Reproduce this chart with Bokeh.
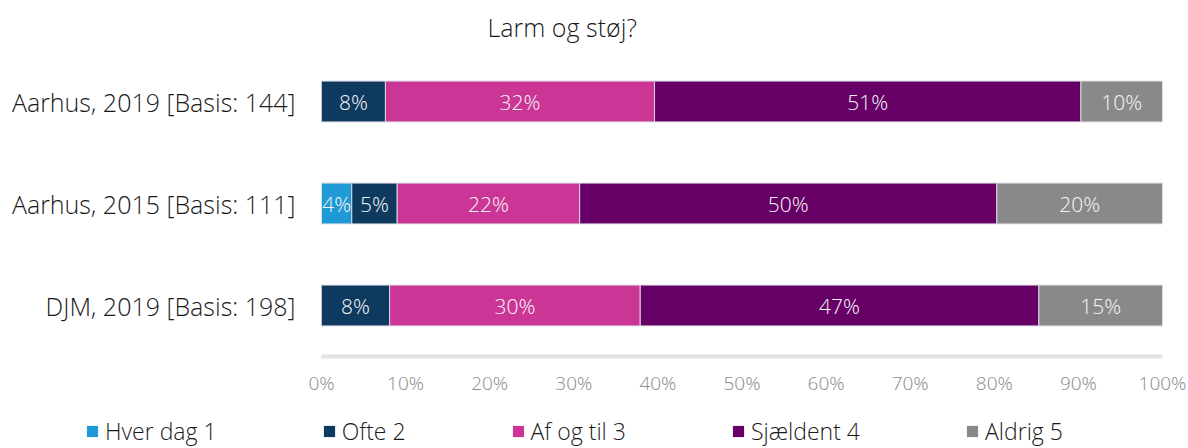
from bokeh.plotting import figure
from bokeh.layouts import column
from bokeh.models import FactorRange, FixedTicker, PrintfTickFormatter, Legend, LegendItem, ColumnDataSource, Range1d
from bokeh.core.properties import value
from bokeh.embed import file_html
from bokeh.resources import INLINE

categories = ["Aarhus, 2019 [Basis: 144]", "Aarhus, 2015 [Basis: 111]", "DJM, 2019 [Basis: 198]"]
series_names = ["Hver dag 1", "Ofte 2", "Af og til 3", "Sjældent 4", "Aldrig 5"]
hver_dag = [0.0, 3.6, 0.0]
ofte = [7.6, 5.4, 8.1]
af_og_til = [32.0, 21.7, 29.8]
sjaeldent = [50.7, 49.6, 47.4]
aldrig = [9.7, 19.7, 14.7]
x_ticks = [0, 10, 20, 30, 40, 50, 60, 70, 80, 90, 100]

colors = ["#1f9ad6", "#0e3a60", "#cb3596", "#660066", "#898989"]
FONT_NAME = "'Open Sans Light', 'Open Sans'"
FONT = value(FONT_NAME)

series = [hver_dag, ofte, af_og_til, sjaeldent, aldrig]
keys = ["s%d" % i for i in range(len(series))]
data = {"cat": categories}
for k, s in zip(keys, series):
    data[k] = s
src = ColumnDataSource(data)

p = figure(width=1188, height=404, y_range=FactorRange(factors=list(reversed(categories))),
           x_range=(0, 100), output_backend="svg", toolbar_location=None,
           min_border_left=321, min_border_right=26, min_border_top=50, min_border_bottom=48)
p.frame_align = False
p.outline_line_color = None
p.grid.visible = False
p.background_fill_color = "white"

renderers = p.hbar_stack(keys, y="cat", height=0.4, source=src, fill_color=colors,
                         line_color="#d8d8e0", line_width=1)

# segment labels
lx, ly, lt = [], [], []
for j, cat in enumerate(categories):
    left = 0.0
    for s in series:
        v = s[j]
        if v > 0:
            lx.append(left + v / 2.0)
            ly.append(cat)
            lt.append("%.0f%%" % v)
        left += v
p.text(x=lx, y=ly, text=lt, text_align="center", text_baseline="middle",
       text_color="#f4f4f4", text_font=FONT, text_font_size="21px")

# axes
p.xaxis.ticker = FixedTicker(ticks=x_ticks)
p.xaxis.formatter = PrintfTickFormatter(format="%d%%")
p.xaxis.major_tick_line_color = None
p.xaxis.minor_tick_line_color = None
p.xaxis.axis_line_color = "#e3e3e3"
p.xaxis.axis_line_width = 4
p.xaxis.major_label_text_font = FONT_NAME
p.xaxis.major_label_text_font_size = "19px"
p.xaxis.major_label_text_color = "#8c8c8c"
p.xaxis.major_label_standoff = 7

p.yaxis.axis_line_color = None
p.yaxis.major_tick_line_color = None
p.yaxis.minor_tick_line_color = None
p.yaxis.major_label_text_font = FONT_NAME
p.yaxis.major_label_text_font_size = "25px"
p.yaxis.major_label_text_color = "#1a1a1a"
p.yaxis.major_label_standoff = 20

# title
p.title.text = "Larm og støj?"
p.title.align = "left"
p.title.offset = 166
p.title.standoff = 14
p.title.text_font = FONT_NAME
p.title.text_font_size = "25px"
p.title.text_font_style = "normal"
p.title.text_color = "#1a1a1a"

# legend strip (own figure, frame not aligned with the chart's)
p2 = figure(width=1188, height=44, x_range=Range1d(0, 1), y_range=Range1d(0, 1),
            output_backend="svg", toolbar_location=None,
            min_border_left=0, min_border_right=0, min_border_top=0, min_border_bottom=0)
p2.frame_align = False
p2.axis.visible = False
p2.grid.visible = False
p2.outline_line_color = None
dummy = ColumnDataSource(dict(y=[5], left=[5], right=[5]))  # off-range swatch carriers
leg_renderers = []
for c in colors:
    leg_renderers.append(p2.hbar(y="y", left="left", right="right", height=0.1, source=dummy,
                                 fill_color=c, line_color=None))

legend = Legend(items=[LegendItem(label=n, renderers=[r]) for n, r in zip(series_names, leg_renderers)],
                orientation="horizontal", location=(85, 1), spacing=105,
                glyph_width=14, glyph_height=14, label_standoff=6, padding=0, margin=0,
                border_line_color=None, background_fill_alpha=0,
                label_text_font=FONT_NAME, label_text_font_size="23px", label_text_color="#1a1a1a")
p2.add_layout(legend, "center")

layout = column(p, p2, spacing=0)
open("out.html", "w").write(file_html(layout, INLINE))
